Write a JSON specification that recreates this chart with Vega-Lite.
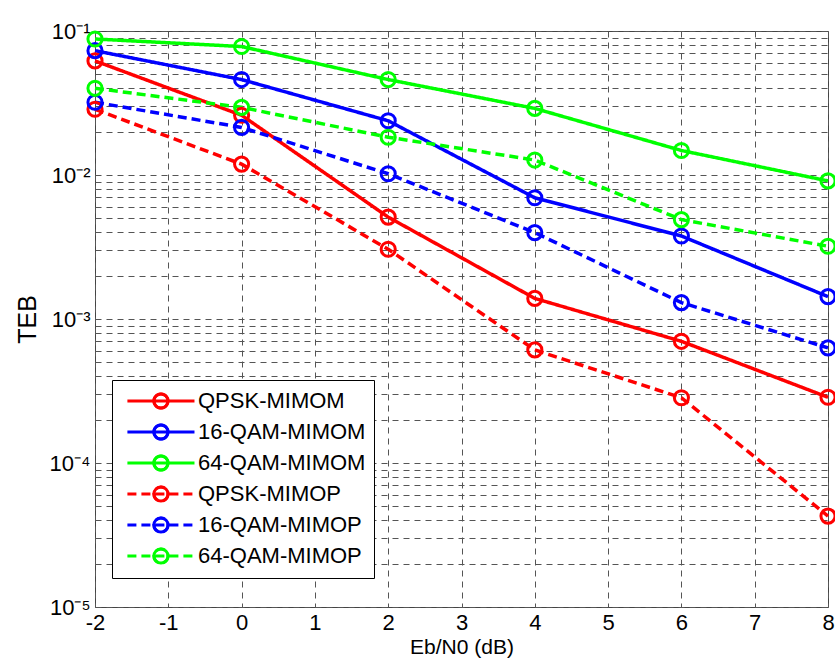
{
  "$schema": "https://vega.github.io/schema/vega-lite/v6.json",
  "width": 733,
  "height": 576,
  "autosize": {"type": "none"},
  "padding": {"left": 95, "top": 31, "right": 7, "bottom": 61},
  "background": "white",
  "config": {
    "font": "Liberation Sans",
    "view": {"stroke": "#444444", "strokeWidth": 1}
  },
  "data": {
    "values": [
      {"series": "QPSK-MIMOM", "ebn0": -2, "teb": 0.062},
      {"series": "QPSK-MIMOM", "ebn0": 0, "teb": 0.026},
      {"series": "QPSK-MIMOM", "ebn0": 2, "teb": 0.0051},
      {"series": "QPSK-MIMOM", "ebn0": 4, "teb": 0.00139},
      {"series": "QPSK-MIMOM", "ebn0": 6, "teb": 0.0007},
      {"series": "QPSK-MIMOM", "ebn0": 8, "teb": 0.000286},
      {"series": "16-QAM-MIMOM", "ebn0": -2, "teb": 0.073},
      {"series": "16-QAM-MIMOM", "ebn0": 0, "teb": 0.046},
      {"series": "16-QAM-MIMOM", "ebn0": 2, "teb": 0.0238},
      {"series": "16-QAM-MIMOM", "ebn0": 4, "teb": 0.00695},
      {"series": "16-QAM-MIMOM", "ebn0": 6, "teb": 0.00377},
      {"series": "16-QAM-MIMOM", "ebn0": 8, "teb": 0.00143},
      {"series": "64-QAM-MIMOM", "ebn0": -2, "teb": 0.088},
      {"series": "64-QAM-MIMOM", "ebn0": 0, "teb": 0.078},
      {"series": "64-QAM-MIMOM", "ebn0": 2, "teb": 0.046},
      {"series": "64-QAM-MIMOM", "ebn0": 4, "teb": 0.029},
      {"series": "64-QAM-MIMOM", "ebn0": 6, "teb": 0.0148},
      {"series": "64-QAM-MIMOM", "ebn0": 8, "teb": 0.0091},
      {"series": "QPSK-MIMOP", "ebn0": -2, "teb": 0.0286},
      {"series": "QPSK-MIMOP", "ebn0": 0, "teb": 0.0119},
      {"series": "QPSK-MIMOP", "ebn0": 2, "teb": 0.00305},
      {"series": "QPSK-MIMOP", "ebn0": 4, "teb": 0.00061},
      {"series": "QPSK-MIMOP", "ebn0": 6, "teb": 0.000284},
      {"series": "QPSK-MIMOP", "ebn0": 8, "teb": 0.0000428},
      {"series": "16-QAM-MIMOP", "ebn0": -2, "teb": 0.032},
      {"series": "16-QAM-MIMOP", "ebn0": 0, "teb": 0.0214},
      {"series": "16-QAM-MIMOP", "ebn0": 2, "teb": 0.0102},
      {"series": "16-QAM-MIMOP", "ebn0": 4, "teb": 0.00398},
      {"series": "16-QAM-MIMOP", "ebn0": 6, "teb": 0.0013},
      {"series": "16-QAM-MIMOP", "ebn0": 8, "teb": 0.00063},
      {"series": "64-QAM-MIMOP", "ebn0": -2, "teb": 0.04},
      {"series": "64-QAM-MIMOP", "ebn0": 0, "teb": 0.0295},
      {"series": "64-QAM-MIMOP", "ebn0": 2, "teb": 0.0183},
      {"series": "64-QAM-MIMOP", "ebn0": 4, "teb": 0.0127},
      {"series": "64-QAM-MIMOP", "ebn0": 6, "teb": 0.0049},
      {"series": "64-QAM-MIMOP", "ebn0": 8, "teb": 0.0032}
    ]
  },
  "encoding": {
    "x": {
      "field": "ebn0",
      "type": "quantitative",
      "scale": {"domain": [-2, 8], "nice": false, "zero": false},
      "axis": {
        "title": "Eb/N0 (dB)",
        "values": [-2, -1, 0, 1, 2, 3, 4, 5, 6, 7, 8],
        "labelExpr": "datum.value < 0 ? '-' + abs(datum.value) : '' + datum.value",
        "grid": true,
        "gridDash": [6, 5],
        "gridColor": "#555555",
        "gridOpacity": 1,
        "gridWidth": 1,
        "domain": false,
        "ticks": false,
        "labelFontSize": 22,
        "labelColor": "black",
        "labelPadding": 5,
        "labelFlush": false,
        "labelOverlap": false,
        "titleFontSize": 21,
        "titleFontWeight": "normal",
        "titleColor": "black",
        "titlePadding": 3
      }
    },
    "y": {
      "field": "teb",
      "type": "quantitative",
      "scale": {"type": "log", "domain": [0.00001, 0.1], "nice": false},
      "axis": {
        "title": "TEB",
        "values": [0.00001, 0.00002, 0.00003, 0.00004, 0.00005, 0.00006, 0.00007, 0.00008, 0.00009,
                   0.0001, 0.0002, 0.0003, 0.0004, 0.0005, 0.0006, 0.0007, 0.0008, 0.0009,
                   0.001, 0.002, 0.003, 0.004, 0.005, 0.006, 0.007, 0.008, 0.009,
                   0.01, 0.02, 0.03, 0.04, 0.05, 0.06, 0.07, 0.08, 0.09, 0.1],
        "labelExpr": "abs(log(datum.value)/LN10 - round(log(datum.value)/LN10)) < 0.000001 ? '10' + ['⁰','⁻¹','⁻²','⁻³','⁻⁴','⁻⁵'][-round(log(datum.value)/LN10)] : ''",
        "grid": true,
        "gridDash": [6, 5],
        "gridColor": "#555555",
        "gridOpacity": 1,
        "gridWidth": 1,
        "domain": false,
        "ticks": false,
        "labelFontSize": 22,
        "labelColor": "black",
        "labelPadding": 5,
        "labelOverlap": false,
        "labelFlush": false,
        "labelBound": false,
        "titleFontSize": 25,
        "titleFontWeight": "normal",
        "titleColor": "black",
        "titlePadding": 9
      }
    }
  },
  "resolve": {
    "scale": {"color": "independent", "strokeDash": "independent"},
    "legend": {"color": "independent", "strokeDash": "independent"}
  },
  "layer": [
    {
      "mark": {"type": "line", "strokeWidth": 3.5},
      "encoding": {
        "color": {
          "field": "series",
          "type": "nominal",
          "scale": {
            "domain": ["QPSK-MIMOM", "16-QAM-MIMOM", "64-QAM-MIMOM", "QPSK-MIMOP", "16-QAM-MIMOP", "64-QAM-MIMOP"],
            "range": ["#ff0000", "#0000ff", "#00ff00", "#ff0000", "#0000ff", "#00ff00"]
          },
          "legend": {
            "title": null,
            "orient": "none",
            "legendX": 17,
            "legendY": 349,
            "zindex": 1,
            "fillColor": "white",
            "strokeColor": "black",
            "padding": 8,
            "labelFontSize": 22,
            "labelColor": "black",
            "labelLimit": 300,
            "symbolType": "M-0.5,0H5.5M3.13,0A0.63,0.63 0 1,1 1.87,0A0.63,0.63 0 1,1 3.13,0",
            "symbolSize": 500,
            "symbolStrokeWidth": 3,
            "symbolFillColor": "transparent",
            "rowPadding": 3,
            "labelOffset": 52
          }
        },
        "strokeDash": {
          "field": "series",
          "type": "nominal",
          "scale": {
            "domain": ["QPSK-MIMOM", "16-QAM-MIMOM", "64-QAM-MIMOM", "QPSK-MIMOP", "16-QAM-MIMOP", "64-QAM-MIMOP"],
            "range": [[1, 0], [1, 0], [1, 0], [9, 5], [9, 5], [9, 5]]
          },
          "legend": {
            "title": null,
            "orient": "none",
            "legendX": 17,
            "legendY": 349,
            "zindex": 1,
            "fillColor": "white",
            "strokeColor": "black",
            "padding": 8,
            "labelFontSize": 22,
            "labelColor": "black",
            "labelLimit": 300,
            "symbolType": "M-0.5,0H5.5M3.13,0A0.63,0.63 0 1,1 1.87,0A0.63,0.63 0 1,1 3.13,0",
            "symbolSize": 500,
            "symbolStrokeWidth": 3,
            "symbolFillColor": "transparent",
            "rowPadding": 3,
            "labelOffset": 52
          }
        }
      }
    },
    {
      "mark": {"type": "point", "shape": "circle", "filled": false, "size": 200, "strokeWidth": 3, "opacity": 1},
      "encoding": {
        "color": {
          "field": "series",
          "type": "nominal",
          "scale": {
            "domain": ["QPSK-MIMOM", "16-QAM-MIMOM", "64-QAM-MIMOM", "QPSK-MIMOP", "16-QAM-MIMOP", "64-QAM-MIMOP"],
            "range": ["#ff0000", "#0000ff", "#00ff00", "#ff0000", "#0000ff", "#00ff00"]
          },
          "legend": {
            "title": null,
            "orient": "none",
            "legendX": 17,
            "legendY": 349,
            "zindex": 2,
            "fillColor": "transparent",
            "strokeColor": "transparent",
            "padding": 8,
            "labelFontSize": 22,
            "labelColor": "transparent",
            "labelExpr": "''",
            "labelLimit": 300,
            "symbolType": "M3.13,0A0.63,0.63 0 1,1 1.87,0A0.63,0.63 0 1,1 3.13,0",
            "symbolSize": 500,
            "symbolStrokeWidth": 3,
            "symbolFillColor": "transparent",
            "symbolOpacity": 1,
            "rowPadding": 3,
            "labelOffset": 52
          }
        }
      }
    }
  ]
}
